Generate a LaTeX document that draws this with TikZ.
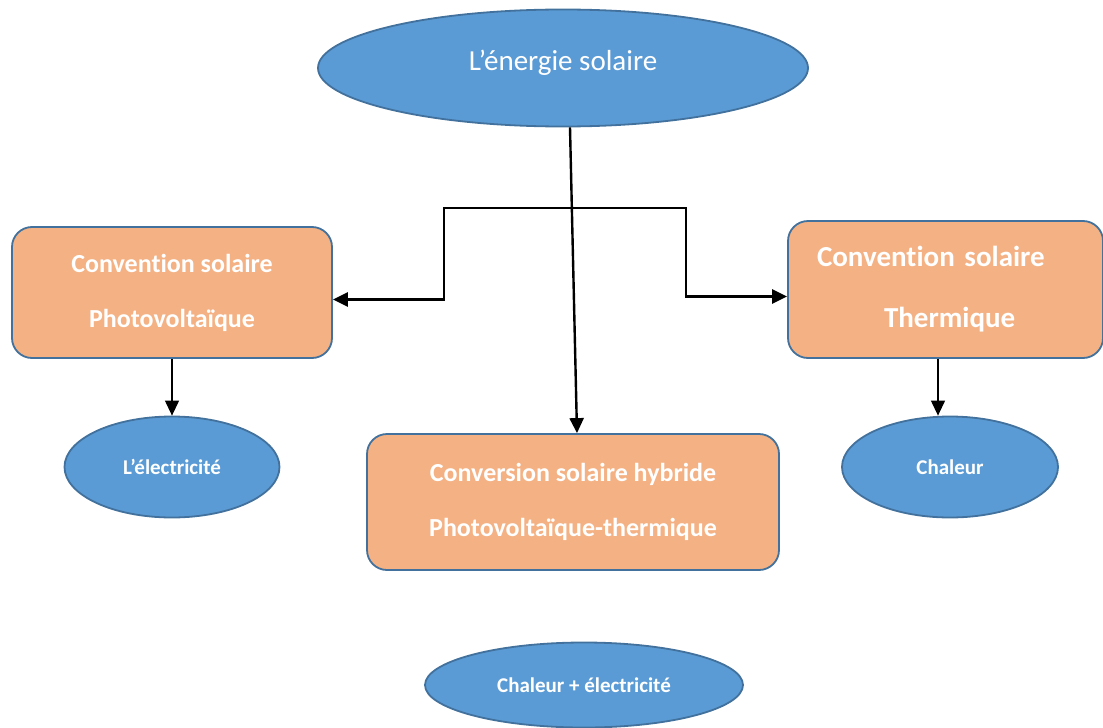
\documentclass[tikz,border=0pt]{standalone}
\usepackage{fontspec}
\setmainfont[Ligatures={NoCommon}]{Carlito}
\usetikzlibrary{arrows.meta,shapes.geometric}
\definecolor{bleu}{HTML}{5B9BD5}
\definecolor{bord}{HTML}{41719C}
\definecolor{saumon}{HTML}{F4B183}

\begin{document}
\begin{tikzpicture}[
  x=1pt, y=-1pt,
  >={Triangle[length=15pt,width=14pt]},
  bulle/.style={ellipse, draw=bord, line width=1.8pt, fill=bleu, text=white,
                inner sep=0pt, font=\bfseries\fontsize{21}{25}\selectfont},
  boite/.style={rectangle, rounded corners=20pt, draw=bord, line width=1.8pt,
                fill=saumon, text=white, align=center, inner sep=0pt,
                font=\bfseries\fontsize{26}{55}\selectfont},
  lien/.style={->, line width=2.4pt},
  fleche/.style={->, line width=1.2pt}
]
\useasboundingbox (0,0) rectangle (1103,728);

\node[bulle, font=\fontsize{29}{35}\selectfont, minimum width=490pt, minimum height=117pt,
      text height=20pt, text depth=16pt] (energie) at (563,68) {L’énergie solaire};
\node[boite, minimum width=320pt, minimum height=131pt] (photo) at (172,292.5)
  {Convention solaire\\Photovoltaïque};
\node[boite, font=\bfseries\fontsize{29}{61}\selectfont, align=left, text width=257pt,
      inner xsep=29pt, minimum height=137pt] (thermo) at (945.5,289.5)
  {\mbox{Convention solaire}\\\hspace*{67pt}Thermique};
\node[boite, minimum width=412pt, minimum height=136pt] (hybride) at (573,502)
  {Conversion solaire hybride\\Photovoltaïque-thermique};
\node[bulle, minimum width=215pt, minimum height=101pt] (elec) at (172,467) {L’électricité};
\node[bulle, minimum width=216pt, minimum height=101pt] (chaleur) at (950,467) {Chaleur};
\node[bulle, minimum width=318pt, minimum height=85pt] (mixte) at (584,685) {Chaleur + électricité};

\coordinate (coinG) at (444,208);
\coordinate (coinD) at (686,208);

\draw[lien] ([xshift=7pt]energie.south) -- ([xshift=4pt]hybride.north);
\draw[lien, <->] ([yshift=-7pt]photo.east) -| (coinG) -- (coinD) |- ([yshift=-7pt]thermo.west);
\draw[fleche] (photo) -- (elec);
\draw[fleche] ([xshift=-7.5pt]thermo.south) -- ([xshift=-12pt]chaleur.north);

\end{tikzpicture}
\end{document}
